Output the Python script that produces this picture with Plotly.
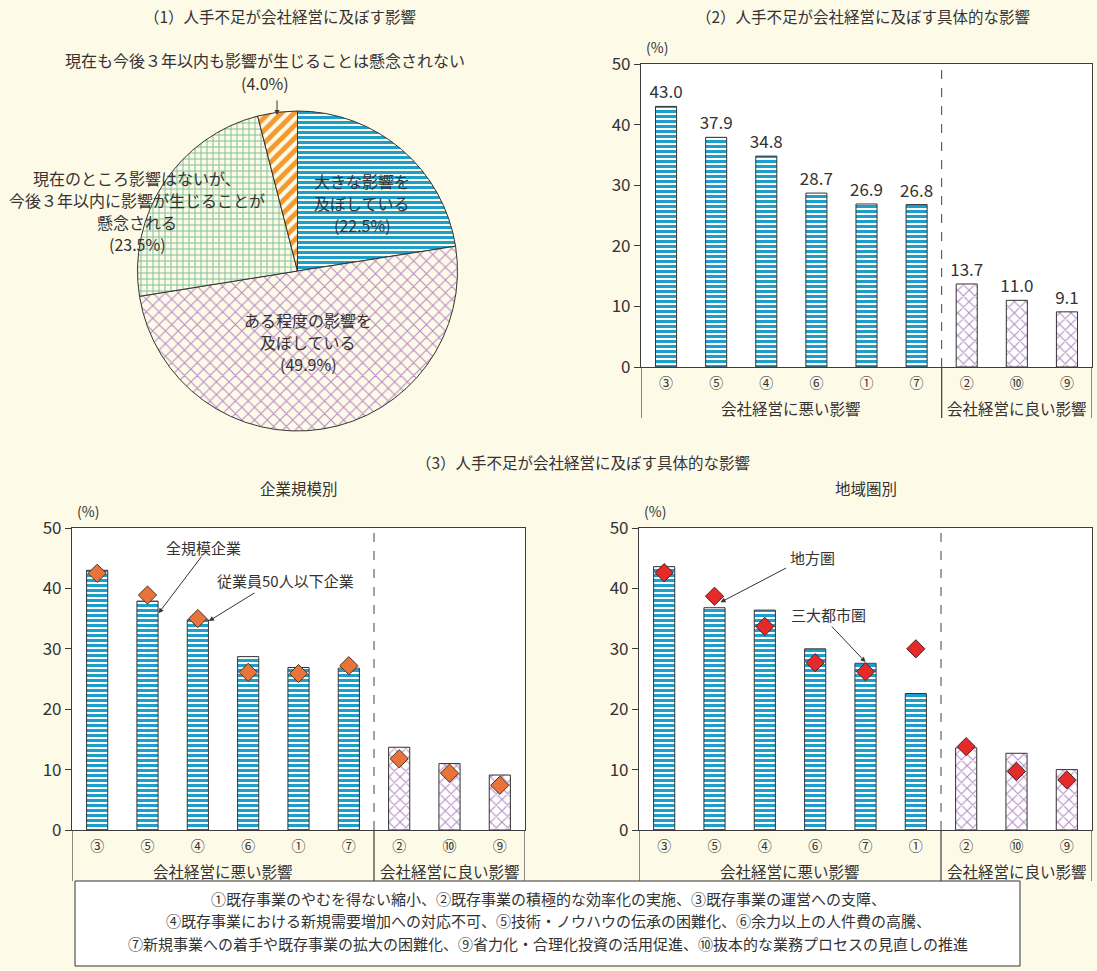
import plotly.graph_objects as go

W, H = 1097, 971
FONT = "Noto Sans CJK JP"
TXT = "#333333"
AXC = "#3c3c3c"
BG = "#FEFAE8"

# (1) share of firms by degree of impact
pie_labels = [
    "大きな影響を及ぼしている",
    "ある程度の影響を及ぼしている",
    "現在のところ影響はないが、今後３年以内に影響が生じることが懸念される",
    "現在も今後３年以内も影響が生じることは懸念されない",
]
pie_values = [22.5, 49.9, 23.5, 4.0]

# (2) specific impacts, all firms
cats_all = ["③", "⑤", "④", "⑥", "①", "⑦", "②", "⑩", "⑨"]
vals_all = [43.0, 37.9, 34.8, 28.7, 26.9, 26.8, 13.7, 11.0, 9.1]

# (3) by firm size: bars = all sizes, diamonds = 50 employees or fewer
vals_small = [42.5, 38.9, 35.0, 26.1, 25.9, 27.2, 11.8, 9.4, 7.4]

# (3) by region: bars = three metropolitan areas, diamonds = regional areas
cats_region = ["③", "⑤", "④", "⑥", "⑦", "①", "②", "⑩", "⑨"]
vals_metro = [43.6, 36.8, 36.4, 30.0, 27.6, 22.6, 13.6, 12.7, 10.0]
vals_local = [42.6, 38.7, 33.7, 27.7, 26.2, 30.0, 13.8, 9.7, 8.3]

N_BAD = 6  # first six items are negative effects
group_labels = ["会社経営に悪い影響", "会社経営に良い影響"]

legend_lines = [
    "①既存事業のやむを得ない縮小、②既存事業の積極的な効率化の実施、③既存事業の運営への支障、",
    "④既存事業における新規需要増加への対応不可、⑤技術・ノウハウの伝承の困難化、⑥余力以上の人件費の高騰、",
    "⑦新規事業への着手や既存事業の拡大の困難化、⑨省力化・合理化投資の活用促進、⑩抜本的な業務プロセスの見直しの推進",
]

BLUE = "#1E9FCB"
PURPLE = "#B68BC7"
GREEN = "#7DBF96"
ORANGE = "#F39A2E"


def px(x):
    return x / W


def py(y):
    return 1 - y / H


def bar_pattern(n):
    shapes = ["-" if i < N_BAD else "x" for i in range(n)]
    fg = [BLUE if i < N_BAD else PURPLE for i in range(n)]
    size = [5 if i < N_BAD else 8 for i in range(n)]
    sol = [0.6 if i < N_BAD else 0.25 for i in range(n)]
    return dict(shape=shapes, fgcolor=fg, bgcolor="white", size=size, solidity=sol, fillmode="replace")


fig = go.Figure()

# ---- pie ----
fig.add_trace(go.Pie(
    labels=pie_labels, values=pie_values, sort=False, direction="clockwise", rotation=0,
    textinfo="none", hoverinfo="label+percent", showlegend=False,
    domain=dict(x=[px(137.5), px(457.5)], y=[py(431), py(111)]),
    marker=dict(
        colors=["white", "white", "#F3FAF1", "white"],
        line=dict(color="#333333", width=1),
        pattern=dict(shape=["-", "x", "+", "/"], fgcolor=[BLUE, PURPLE, GREEN, ORANGE],
                     size=[5, 9, 6, 9], solidity=[0.6, 0.22, 0.3, 0.55]),
    ),
))

# ---- (2) bars ----
fig.add_trace(go.Bar(
    x=cats_all, y=vals_all, width=0.42, xaxis="x", yaxis="y", showlegend=False,
    marker=dict(color="white", pattern=bar_pattern(len(vals_all)), line=dict(color="#333333", width=1)),
    texttemplate="%{y:.1f}", textposition="outside", cliponaxis=False, constraintext="none",
    textfont=dict(family=FONT, size=17, color=TXT),
))

# ---- (3) by firm size ----
fig.add_trace(go.Bar(
    x=cats_all, y=vals_all, width=0.42, xaxis="x2", yaxis="y2", name="全規模企業", showlegend=False,
    marker=dict(color="white", pattern=bar_pattern(len(vals_all)), line=dict(color="#333333", width=1)),
))
fig.add_trace(go.Scatter(
    x=cats_all, y=vals_small, mode="markers", xaxis="x2", yaxis="y2", name="従業員50人以下企業",
    showlegend=False, cliponaxis=False,
    marker=dict(symbol="diamond", size=14, color="#E8743B", line=dict(color="#4a3020", width=1)),
))

# ---- (3) by region ----
fig.add_trace(go.Bar(
    x=cats_region, y=vals_metro, width=0.42, xaxis="x3", yaxis="y3", name="三大都市圏", showlegend=False,
    marker=dict(color="white", pattern=bar_pattern(len(vals_metro)), line=dict(color="#333333", width=1)),
))
fig.add_trace(go.Scatter(
    x=cats_region, y=vals_local, mode="markers", xaxis="x3", yaxis="y3", name="地方圏",
    showlegend=False, cliponaxis=False,
    marker=dict(symbol="diamond", size=14, color="#E62A2A", line=dict(color="#4a2020", width=1)),
))

# axis geometry (pixels): left, right, top (=50), bottom (=0)
panels = {
    "": (641, 1092, 64, 367),
    "2": (72, 525, 528, 830),
    "3": (639, 1092, 528, 830),
}

layout_axes = {}
shapes = []
annotations = []


def text(s, x, y, size=15, xref="paper"):
    annotations.append(dict(text=s, xref=xref, yref="paper", x=px(x) if xref == "paper" else x, y=py(y),
                            xanchor="center", yanchor="middle", showarrow=False,
                            font=dict(family=FONT, size=size, color=TXT)))


for k, (l, r, t, b) in panels.items():
    xa, ya = "x" + k, "y" + k
    layout_axes["xaxis" + k] = dict(
        domain=[px(l), px(r)], anchor=ya, type="category", range=[-0.5, 8.5], automargin=False,
        showline=True, linecolor=AXC, linewidth=1.2, mirror=True, ticks="", ticklabelstandoff=3,
        tickfont=dict(family=FONT, size=14, color=TXT), showgrid=False, zeroline=False,
    )
    layout_axes["yaxis" + k] = dict(
        domain=[py(b), py(t)], anchor=xa, range=[0, 50], dtick=10, automargin=False,
        showline=True, linecolor=AXC, linewidth=1.2, mirror=True,
        ticks="outside", ticklen=6, tickcolor=AXC, showgrid=False, zeroline=False,
        tickfont=dict(family=FONT, size=17, color=TXT),
    )
    # dashed divider between negative and positive effects
    shapes.append(dict(type="line", xref=xa, yref=ya, x0=N_BAD - 0.5, x1=N_BAD - 0.5, y0=0, y1=50,
                       line=dict(color="#444444", width=1, dash="dash")))
    # group dividers below the axis
    for xv in (-0.5, N_BAD - 0.5, 8.5):
        shapes.append(dict(type="line", xref=xa, yref="paper", x0=xv, x1=xv,
                           y0=py(b), y1=py(b + 51), line=dict(color=AXC, width=1.2)))
    # group labels
    for lab, xc in zip(group_labels, [(N_BAD - 1) / 2, (N_BAD + 8) / 2]):
        text(lab, xc, b + 41, 15.5, xref=xa)
    # unit label
    text("(%)", l + 16, t - 17, 14)


# titles
text("（1）人手不足が会社経営に及ぼす影響", 280, 16, 15.5)
text("（2）人手不足が会社経営に及ぼす具体的な影響", 863, 16, 15.5)
text("（3）人手不足が会社経営に及ぼす具体的な影響", 583, 462, 15.5)
text("企業規模別", 299, 488, 15.5)
text("地域圏別", 866, 488, 15.5)

# pie labels
pct = [f"({v:.1f}%)" for v in pie_values]
for i, line in enumerate(["大きな影響を", "及ぼしている", pct[0]]):
    text(line, 362, 181 + 22 * i, 16)
for i, line in enumerate(["ある程度の影響を", "及ぼしている", pct[1]]):
    text(line, 308, 320 + 22 * i, 16)
for i, line in enumerate(["現在のところ影響はないが、", "今後３年以内に影響が生じることが", "懸念される", pct[2]]):
    text(line, 137, 178 + 22 * i, 16)
text("現在も今後３年以内も影響が生じることは懸念されない", 265, 60, 16)
text(pct[3], 265, 83, 16)
annotations.append(dict(text="", xref="paper", yref="paper", x=px(277), y=py(115), ax=0, ay=-16,
                        showarrow=True, arrowhead=2, arrowsize=1, arrowwidth=1, arrowcolor="#333"))

# series callouts
text("全規模企業", 203, 547, 15)
text("従業員50人以下企業", 285, 580, 15)
text("地方圏", 812, 557, 15)
text("三大都市圏", 828, 614, 15)


def arrow(xref, yref, x, y, ax, ay):
    annotations.append(dict(text="", xref=xref, yref=yref, x=x, y=y, ax=ax, ay=ay, showarrow=True,
                            arrowhead=2, arrowsize=1, arrowwidth=1, arrowcolor="#333"))


arrow("x2", "y2", 1 + 0.22, vals_all[1] - 2.0, 44, -58)
arrow("x2", "y2", 2 + 0.22, vals_all[2] - 0.2, 47, -29)
arrow("x3", "y3", 1 + 0.12, vals_local[1] - 1.0, 67, -35)
arrow("x3", "y3", 4, vals_metro[4] + 0.2, -35, -37)

# explanatory box
shapes.append(dict(type="rect", xref="paper", yref="paper", x0=px(75), x1=px(1020), y0=py(966), y1=py(881),
                   line=dict(color="#333333", width=1), fillcolor="white", layer="below"))
for i, line in enumerate(legend_lines):
    text(line, 548, 898 + 22.5 * i, 15)

fig.update_layout(
    width=W, height=H, margin=dict(l=0, r=0, t=0, b=0), autosize=False,
    paper_bgcolor=BG, plot_bgcolor="white", showlegend=False,
    font=dict(family=FONT, color=TXT),
    shapes=shapes, annotations=annotations, **layout_axes,
)

fig.write_html("out.html")
